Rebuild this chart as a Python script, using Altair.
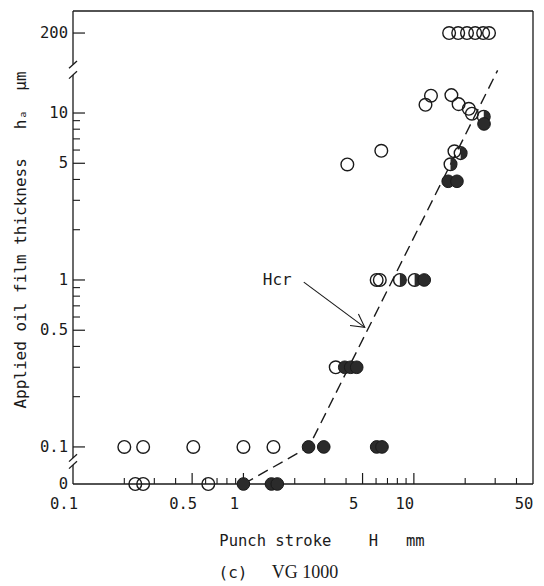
import math
import altair as alt
import pandas as pd

# ---------------- data ----------------
open_x = [0.232, 0.258, 0.622,
          0.2, 0.258, 0.508, 1.0, 1.5,
          3.48,
          6.05, 6.31,
          4.07, 6.44, 17.3,
          11.7, 12.6, 16.6, 18.3, 21.0, 21.9,
          16.1, 18.2, 20.5, 22.9, 25.5, 27.6]
open_y = [0, 0, 0,
          0.1, 0.1, 0.1, 0.1, 0.1,
          0.3,
          1.0, 1.0,
          4.92, 5.94, 5.9,
          11.2, 12.7, 12.8, 11.3, 10.6, 9.9,
          200, 200, 200, 200, 200, 200]

filled_x = [1.0, 1.46, 1.58,
            2.41, 2.96, 6.05, 6.5,
            3.93, 4.26, 4.62,
            11.5,
            15.9, 17.9,
            25.8]
filled_y = [0, 0, 0,
            0.1, 0.1, 0.1, 0.1,
            0.3, 0.3, 0.3,
            1.0,
            3.9, 3.9,
            8.6]

half_x = [8.28, 10.1, 16.4, 18.8, 25.7]
half_y = [1.0, 1.0, 4.93, 5.75, 9.5]

hcr_x = [1.0, 2.42, 31.0]
hcr_y = [0.0, 0.1, 18.0]

arrow_x = [2.26, 5.15]
arrow_y = [0.97, 0.52]
hcr_label_x = [1.58]
hcr_label_y = [1.0]
hcr_label = ["Hcr"]

x_major_ticks = [0.5, 1, 5, 10]
x_minor_ticks = [0.2, 0.3, 0.4, 0.6, 0.7, 0.8, 0.9, 2, 3, 4, 6, 7, 8, 9, 20, 30, 40]
y_major_ticks = [0.1, 0.5, 1, 5, 10, 200]
y_minor_ticks = [0.2, 0.3, 0.4, 0.6, 0.7, 0.8, 0.9, 2, 3, 4, 6, 7, 8, 9]

x_label_values = [0.1, 0.5, 1, 5, 10, 50]
x_label_text = ["0.1", "0.5", "1", "5", "10", "50"]
y_label_values = [0, 0.1, 0.5, 1, 5, 10, 200]
y_label_text = ["0", "0.1", "0.5", "1", "5", "10", "200"]

x_title = "Punch stroke\u00a0\u00a0\u00a0\u00a0H\u00a0\u00a0\u00a0mm"
y_title = "Applied oil film thickness\u00a0\u00a0\u00a0h\u2090\u00a0\u00a0\u03bcm"
caption_a = "(c)"
caption_b = "VG 1000"

# ---------------- broken y axis transform ----------------
W, H = 460, 473
Y_TOP = 1.611
ZERO_POS = -1.222
HI_SHIFT = math.log10(200) - 1.479
LOWER_BREAK = (-1.108, -1.066)
UPPER_BREAK = (1.228, 1.29)


def ypos(v):
    if v <= 0:
        return ZERO_POS
    if v >= 100:
        return math.log10(v) - HI_SHIFT
    return math.log10(v)


xscale = alt.Scale(type="log", domain=[0.1, 50], nice=False)
yscale = alt.Scale(type="linear", domain=[ZERO_POS, Y_TOP], nice=False, zero=False)


def X(f):
    return alt.X(f, type="quantitative", scale=xscale, axis=None)


def Y(f):
    return alt.Y(f, type="quantitative", scale=yscale, axis=None)


def pts(xs, ys):
    return pd.DataFrame({"x": xs, "p": [ypos(v) for v in ys]})


MONO = "DejaVu Sans Mono"
SERIF = "Liberation Serif"
INK = "#1a1a1a"

# ---------------- frame & axes ----------------
frame_top = alt.Chart(pd.DataFrame({"a": [0]})).mark_rule(color=INK, strokeWidth=1.3).encode(
    x=alt.value(0), x2=alt.value(W), y=alt.value(0))
frame_right = alt.Chart(pd.DataFrame({"a": [0]})).mark_rule(color=INK, strokeWidth=1.3).encode(
    x=alt.value(W), y=alt.value(0), y2=alt.value(H))
frame_bottom = alt.Chart(pd.DataFrame({"a": [0]})).mark_rule(color=INK, strokeWidth=1.3).encode(
    x=alt.value(0), x2=alt.value(W), y=alt.value(H))

left_segs = pd.DataFrame({
    "p": [Y_TOP, UPPER_BREAK[0], LOWER_BREAK[0]],
    "p2": [UPPER_BREAK[1], LOWER_BREAK[1], ZERO_POS],
})
left_axis = alt.Chart(left_segs).mark_rule(color=INK, strokeWidth=1.3).encode(
    x=alt.value(0), y=Y("p"), y2="p2")

d = 0.022
slash_edges = [LOWER_BREAK[0], LOWER_BREAK[1], UPPER_BREAK[0], UPPER_BREAK[1]]
slashes = alt.Chart(pd.DataFrame({"p": [e - d for e in slash_edges],
                                  "p2": [e + d for e in slash_edges]})).mark_rule(
    color=INK, strokeWidth=1.3).encode(x=alt.value(-4), x2=alt.value(4), y=Y("p"), y2="p2")

xt_major = alt.Chart(pd.DataFrame({"x": x_major_ticks})).mark_rule(color=INK, strokeWidth=1.2).encode(
    x=X("x"), y=alt.value(H), y2=alt.value(H - 11))
xt_minor = alt.Chart(pd.DataFrame({"x": x_minor_ticks})).mark_rule(color=INK, strokeWidth=1.1).encode(
    x=X("x"), y=alt.value(H), y2=alt.value(H - 6))
yt_major = alt.Chart(pd.DataFrame({"p": [ypos(v) for v in y_major_ticks]})).mark_rule(
    color=INK, strokeWidth=1.2).encode(y=Y("p"), x=alt.value(0), x2=alt.value(12))
yt_minor = alt.Chart(pd.DataFrame({"p": [ypos(v) for v in y_minor_ticks]})).mark_rule(
    color=INK, strokeWidth=1.1).encode(y=Y("p"), x=alt.value(0), x2=alt.value(7))

x_labels = alt.Chart(pd.DataFrame({"x": x_label_values, "t": x_label_text})).mark_text(
    font=MONO, fontSize=15.5, color=INK, align="center", baseline="middle", dx=-9).encode(
    x=X("x"), y=alt.value(H + 20), text="t")
y_labels = alt.Chart(pd.DataFrame({"p": [ypos(v) for v in y_label_values], "t": y_label_text})).mark_text(
    font=MONO, fontSize=15.5, color=INK, align="right", baseline="middle").encode(
    x=alt.value(-5), y=Y("p"), text="t")

x_title_l = alt.Chart(pd.DataFrame({"t": [x_title]})).mark_text(
    font=MONO, fontSize=15.5, color=INK, align="center", baseline="middle").encode(
    x=alt.value(249), y=alt.value(H + 57), text="t")
y_title_l = alt.Chart(pd.DataFrame({"t": [y_title]})).mark_text(
    font=MONO, fontSize=16, color=INK, align="center", baseline="middle", angle=270).encode(
    x=alt.value(-52), y=alt.value(229), text="t")
cap_a = alt.Chart(pd.DataFrame({"t": [caption_a]})).mark_text(
    font=MONO, fontSize=16, color=INK, align="center", baseline="middle").encode(
    x=alt.value(160), y=alt.value(H + 89), text="t")
cap_b = alt.Chart(pd.DataFrame({"t": [caption_b]})).mark_text(
    font=SERIF, fontSize=18, color=INK, align="center", baseline="middle").encode(
    x=alt.value(232), y=alt.value(H + 89), text="t")

# ---------------- data marks ----------------
hcr_line = alt.Chart(pts(hcr_x, hcr_y)).mark_line(
    color=INK, strokeWidth=1.4, strokeDash=[11, 6]).encode(x=X("x"), y=Y("p"))

arrow_line = alt.Chart(pts(arrow_x, arrow_y)).mark_line(color=INK, strokeWidth=1.1).encode(
    x=X("x"), y=Y("p"))
arrow_head = alt.Chart(pts(arrow_x[1:], arrow_y[1:])).mark_point(
    shape="M-1,-0.55L0,0L-1,0.55", filled=False, stroke=INK, strokeWidth=1.1,
    size=676, angle=36, opacity=1).encode(x=X("x"), y=Y("p"))
hcr_text = alt.Chart(pts(hcr_label_x, hcr_label_y).assign(t=hcr_label)).mark_text(
    font=MONO, fontSize=16, color=INK, align="center", baseline="middle").encode(
    x=X("x"), y=Y("p"), text="t")

open_pts = alt.Chart(pts(open_x + half_x, open_y + half_y)).mark_point(
    shape="circle", filled=False, stroke=INK, strokeWidth=1.4, size=160, opacity=1).encode(
    x=X("x"), y=Y("p"))
filled_pts = alt.Chart(pts(filled_x, filled_y)).mark_point(
    shape="circle", filled=True, fill="#2b2b2b", stroke=INK, strokeWidth=1, size=160, opacity=1).encode(
    x=X("x"), y=Y("p"))
half_pts = alt.Chart(pts(half_x, half_y)).mark_point(
    shape="M0,-1A1,1,0,0,1,0,1Z", filled=True, fill="#2b2b2b", strokeWidth=0, size=160, opacity=1).encode(
    x=X("x"), y=Y("p"))

chart = alt.layer(
    frame_top, frame_right, frame_bottom, left_axis, slashes,
    xt_major, xt_minor, yt_major, yt_minor,
    x_labels, y_labels, x_title_l, y_title_l, cap_a, cap_b,
    hcr_line, arrow_line, arrow_head, hcr_text,
    open_pts, half_pts, filled_pts,
).properties(
    width=W, height=H,
    autosize=alt.AutoSizeParams(type="none"),
    padding={"left": 73, "top": 11, "right": 11, "bottom": 102},
    background="white",
).configure_view(stroke=None)

chart.save("out.html", embed_options={"renderer": "svg", "actions": False})
